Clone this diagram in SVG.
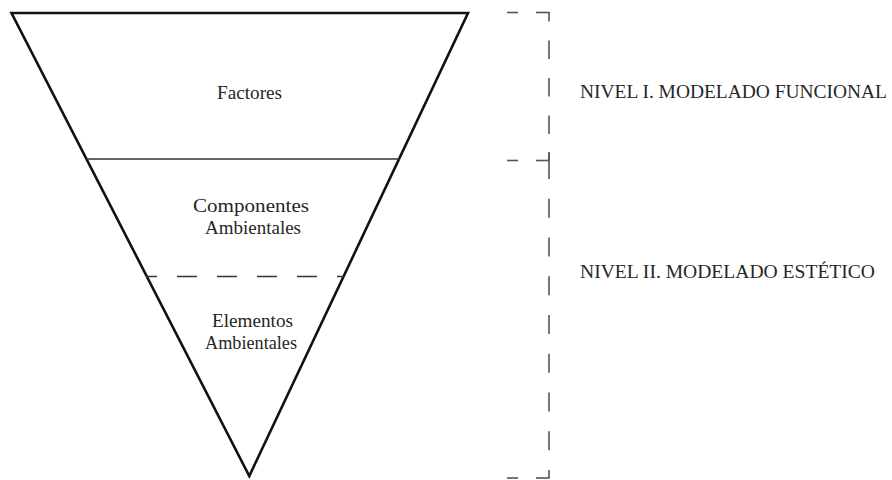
<svg xmlns="http://www.w3.org/2000/svg" width="892" height="480" viewBox="0 0 892 480">
  <style>
    .label { font-family: "Liberation Serif", "Times New Roman", serif; font-size: 19.5px; fill: #262626; }
    .mid { text-anchor: middle; }
    .bracket { stroke: #555; stroke-width: 1.6; fill: none; }
  </style>
  <rect width="892" height="480" fill="#ffffff"/>

  <!-- inverted pyramid -->
  <g id="pyramid">
    <polygon points="11.5,13 468,13 249.3,476" fill="none" stroke="#111" stroke-width="2.6" stroke-linejoin="miter"/>
  </g>

  <!-- dividers between the layers -->
  <g id="connectors">
    <line x1="86" y1="159" x2="399.5" y2="159" stroke="#333" stroke-width="1.6"/>
    <line x1="146" y1="276.5" x2="344" y2="276.5" stroke="#333" stroke-width="1.6" stroke-dasharray="20 20" stroke-dashoffset="9"/>
  </g>

  <g id="factores">
    <text class="label mid" x="249.5" y="99" textLength="65" lengthAdjust="spacingAndGlyphs">Factores</text>
  </g>

  <g id="componentes">
    <text class="label mid" x="251" y="211.5" textLength="116" lengthAdjust="spacingAndGlyphs">Componentes</text>
    <text class="label mid" x="253" y="233.5" textLength="96" lengthAdjust="spacingAndGlyphs">Ambientales</text>
  </g>

  <g id="elementos">
    <text class="label mid" x="252.5" y="327" textLength="81" lengthAdjust="spacingAndGlyphs">Elementos</text>
    <text class="label mid" x="251" y="349" textLength="92" lengthAdjust="spacingAndGlyphs">Ambientales</text>
  </g>

  <!-- level brackets -->
  <g id="bracket">
    <line class="bracket" x1="507" y1="12.5" x2="518" y2="12.5"/>
    <line class="bracket" x1="536" y1="12.5" x2="549.5" y2="12.5"/>
    <line class="bracket" x1="549" y1="12" x2="549" y2="160" stroke-dasharray="18.5 19" stroke-dashoffset="9"/>
    <line class="bracket" x1="507" y1="160.5" x2="518" y2="160.5"/>
    <line class="bracket" x1="536" y1="160.5" x2="549" y2="160.5"/>
    <line class="bracket" x1="549" y1="152" x2="549" y2="160"/>
    <line class="bracket" x1="549" y1="160" x2="549" y2="478" stroke-dasharray="19 19.75"/>
    <line class="bracket" x1="507" y1="478" x2="518" y2="478"/>
    <line class="bracket" x1="536" y1="478" x2="549.5" y2="478"/>
  </g>

  <g id="nivel-1">
    <text class="label" x="580" y="98" textLength="307" lengthAdjust="spacingAndGlyphs">NIVEL I. MODELADO FUNCIONAL</text>
  </g>

  <g id="nivel-2">
    <text class="label" x="580" y="278" textLength="295" lengthAdjust="spacingAndGlyphs">NIVEL II. MODELADO ESTÉTICO</text>
  </g>
</svg>
